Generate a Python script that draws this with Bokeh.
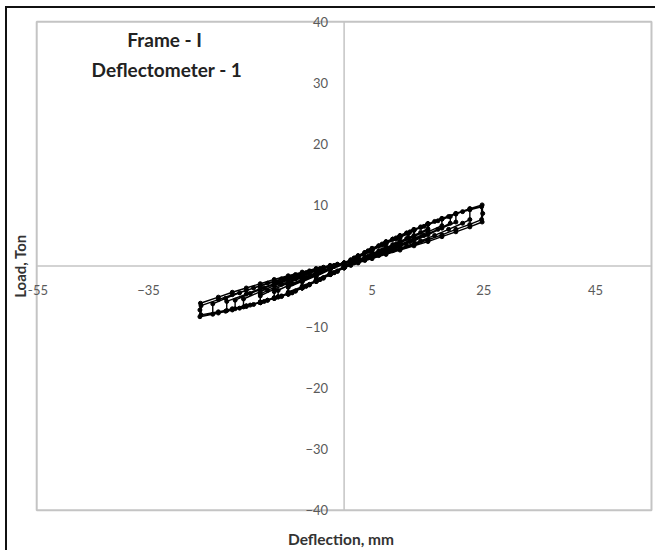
from bokeh.plotting import figure
from bokeh.models import Range1d, LinearAxis, FixedTicker, Label
from bokeh.embed import file_html
from bokeh.resources import INLINE

# ---- data ----
x_limits = [-55, 55]
y_limits = [-40, 40]
# (the -15 tick label is hidden under the data in the original, so only visible ones are listed)
x_tick_values = [-55, -35, 5, 25, 45]
y_tick_values = [-40, -30, -20, -10, 10, 20, 30, 40]

deflection = [
    # cycle A
    0, 2.5, 5, 5, 2.5, 0, -2.5, -5, -5, -2.5, 0,
    # cycle B
    2.5, 5, 7.5, 7.5, 5, 2.5, 0, -2.5, -5, -7.5, -7.5, -5, -2.5, 0,
    # cycle C
    2.5, 5, 7.5, 10, 10, 7.5, 5, 2.5, 0, -2.5, -5, -7.5, -10, -10, -7.5, -5, -2.5, 0,
    # cycle D
    2.5, 5, 7.5, 10, 10, 7.5, 5, 2.5, 0, -2.5, -5, -7.5, -10, -10, -7.5, -5, -2.5, 0,
    # cycle M
    1.8, 4.3, 6.8, 9.3, 11.5, 11.5, 9.3, 6.8, 4.3, 1.8, 0,
    -1.8, -4.3, -6.8, -9.3, -11.8, -11.8, -9.3, -6.8, -4.3, -1.8, 0,
    # cycle E
    2.5, 5, 7.5, 10, 12.5, 12.5, 10, 7.5, 5, 2.5, 0, -2.5, -5, -7.5, -10, -12.5, -12.5, -10, -7.5, -5, -2.5, 0,
    # cycle F
    2.5, 5, 7.5, 10, 12.5, 15, 15, 12.5, 10, 7.5, 5, 2.5, 0, -2.5, -5, -7.5, -10, -12.5, -15,
    -15, -12.5, -10, -7.5, -5, -2.5, 0,
    # cycle G
    1.2, 3.7, 6.2, 8.7, 11.2, 13.7, 15, 15, 13.7, 11.2, 8.7, 6.2, 3.7, 1.2, 0,
    -1.2, -3.7, -6.2, -8.7, -11.2, -13.7, -15, -15, -13.7, -11.2, -8.7, -6.2, -3.7, -1.2, 0,
    # cycle H
    2.5, 5, 7.5, 10, 12.5, 15, 17.5, 17.5, 15, 12.5, 10, 7.5, 5, 2.5, 0,
    -2.5, -5, -7.5, -10, -12.5, -15, -18, -18, -15, -12.5, -10, -7.5, -5, -2.5, 0,
    # cycle N
    1.8, 4.3, 6.8, 9.3, 11.8, 14.3, 16.8, 19, 19, 16.8, 14.3, 11.8, 9.3, 6.8, 4.3, 1.8, 0,
    -1.8, -4.3, -6.8, -9.3, -11.8, -14.3, -16.8, -19.5, -19.5, -16.8, -14.3, -11.8, -9.3, -6.8, -4.3, -1.8, 0,
    # cycle I
    2.5, 5, 7.5, 10, 12.5, 15, 17.5, 20, 20, 17.5, 15, 12.5, 10, 7.5, 5, 2.5, 0,
    -2.5, -5, -7.5, -10, -12.5, -15, -17.5, -21, -21, -17.5, -15, -12.5, -10, -7.5, -5, -2.5, 0,
    # cycle J
    1.2, 3.7, 6.2, 8.7, 11.2, 13.7, 16.2, 18.7, 21.2, 22.5, 22.5, 21.2, 18.7, 16.2, 13.7, 11.2, 8.7, 6.2, 3.7, 1.2, 0,
    -1.2, -3.7, -6.2, -8.7, -11.2, -13.7, -16.2, -18.7, -21.2, -23.5,
    -23.5, -21.2, -18.7, -16.2, -13.7, -11.2, -8.7, -6.2, -3.7, -1.2, 0,
    # cycle K (outermost)
    2.5, 5, 7.5, 10, 12.5, 15, 17.5, 20, 22.5, 24.7, 24.8, 24.7, 22.5, 20, 17.5, 15, 12.5, 10, 7.5, 5, 2.5, 0,
    -2.5, -5, -7.5, -10, -12.5, -15, -17.5, -20, -22.5, -25.8, -25.8, -25.7,
    -22.5, -20, -17.5, -15, -12.5, -10, -7.5, -5, -2.5, 0,
    # cycle L
    2.5, 5, 7.5, 10, 12.5, 15, 17.5, 20, 22.5, 24.6, 24.6, 22.5, 20, 17.5, 15, 12.5, 10, 7.5, 5, 2.5, 0,
    -2.5, -5, -7.5, -10, -12.5, -15, -17.5, -20, -22.5, -25.6, -25.6,
    -22.5, -20, -17.5, -15, -12.5, -10, -7.5, -5, -2.5, 0,
]
load = [
    # cycle A
    0.2, 1.4, 2.5, 2.0, 0.9, -0.1, -1.2, -2.2, -1.7, -0.6, 0.3,
    # cycle B
    1.5, 2.6, 3.6, 3.0, 2.0, 0.9, -0.2, -1.3, -2.4, -3.3, -2.6, -1.6, -0.6, 0.3,
    # cycle C
    1.5, 2.7, 3.8, 4.7, 4.0, 3.0, 2.0, 1.0, -0.1, -1.3, -2.4, -3.4, -4.3, -3.5, -2.5, -1.5, -0.5, 0.3,
    # cycle D
    1.6, 2.7, 3.7, 4.6, 3.8, 2.8, 1.9, 0.9, -0.2, -1.4, -2.5, -3.5, -4.4, -3.3, -2.3, -1.4, -0.4, 0.4,
    # cycle M
    1.3, 2.4, 3.4, 4.4, 5.3, 4.6, 3.6, 2.6, 1.6, 0.6, -0.2,
    -1.1, -2.2, -3.3, -4.3, -5.0, -4.0, -2.9, -1.9, -1.0, -0.1, 0.4,
    # cycle E
    1.6, 2.8, 3.9, 4.9, 5.8, 5.0, 4.0, 3.0, 2.0, 1.0, -0.2, -1.4, -2.5, -3.6, -4.5, -5.2, -4.2, -3.2, -2.3, -1.3, -0.4, 0.4,
    # cycle F
    1.6, 2.8, 3.9, 4.9, 5.9, 6.8, 5.9, 4.8, 3.8, 2.8, 1.8, 0.8, -0.3, -1.4, -2.5, -3.6, -4.6, -5.3, -6.0,
    -4.9, -3.8, -2.8, -1.9, -1.1, -0.3, 0.4,
    # cycle G
    1.0, 2.2, 3.3, 4.4, 5.4, 6.3, 6.9, 6.1, 5.5, 4.5, 3.5, 2.5, 1.5, 0.5, -0.1,
    -0.8, -1.9, -3.0, -4.1, -4.9, -5.6, -5.9, -4.6, -4.0, -3.0, -2.1, -1.2, -0.4, 0.2, 0.5,
    # cycle H
    1.6, 2.8, 3.9, 4.9, 5.9, 6.9, 7.7, 6.6, 5.6, 4.5, 3.5, 2.6, 1.7, 0.7, -0.3,
    -1.4, -2.5, -3.6, -4.6, -5.3, -6.0, -6.7, -5.4, -4.2, -3.2, -2.3, -1.5, -0.7, 0.0, 0.5,
    # cycle N
    1.3, 2.5, 3.6, 4.6, 5.6, 6.5, 7.4, 8.1, 7.0, 6.0, 5.0, 4.0, 3.1, 2.3, 1.4, 0.5, -0.3,
    -1.1, -2.2, -3.3, -4.4, -5.1, -5.8, -6.4, -7.0, -5.6, -4.5, -3.6, -2.7, -1.9, -1.1, -0.4, 0.1, 0.5,
    # cycle I
    1.6, 2.8, 3.9, 4.9, 5.9, 6.9, 7.7, 8.5, 7.2, 6.2, 5.1, 4.1, 3.2, 2.3, 1.5, 0.6, -0.3,
    -1.4, -2.5, -3.6, -4.6, -5.3, -6.0, -6.6, -7.3, -5.8, -4.6, -3.7, -2.9, -2.1, -1.3, -0.6, 0.0, 0.5,
    # cycle J
    1.0, 2.2, 3.3, 4.4, 5.4, 6.4, 7.3, 8.1, 8.9, 9.3, 7.6, 7.0, 6.0, 5.0, 4.1, 3.3, 2.5, 1.7, 0.9, 0.1, -0.3,
    -0.9, -2.0, -3.1, -4.1, -5.0, -5.6, -6.3, -6.9, -7.4, -7.9,
    -6.2, -5.3, -4.4, -3.6, -2.8, -2.1, -1.4, -0.8, -0.2, 0.3, 0.5,
    # cycle K (outermost)
    1.6, 2.8, 3.9, 4.9, 5.9, 6.9, 7.7, 8.6, 9.4, 10.0, 8.6, 7.2, 6.4, 5.6, 4.8, 4.0, 3.3, 2.6, 1.9, 1.2, 0.5, -0.3,
    -1.4, -2.5, -3.6, -4.6, -5.3, -6.0, -6.6, -7.2, -7.7, -8.3, -7.2, -6.1,
    -5.1, -4.3, -3.6, -2.9, -2.2, -1.6, -1.0, -0.4, 0.1, 0.5,
    # cycle L
    1.7, 2.9, 4.0, 5.0, 6.0, 6.9, 7.8, 8.6, 9.2, 9.7, 7.6, 6.8, 6.0, 5.1, 4.3, 3.5, 2.8, 2.1, 1.4, 0.6, -0.2,
    -1.3, -2.4, -3.5, -4.5, -5.2, -5.9, -6.5, -7.0, -7.5, -8.0, -6.5,
    -5.5, -4.7, -4.0, -3.3, -2.6, -1.9, -1.2, -0.6, 0.0, 0.4,
]

title_lines = ["Frame  - I", "Deflectometer - 1"]

FONT = "Lato"
GRAY_LINE = "#c4c4c4"
LABEL_GRAY = "#5a5a5a"

# the canvas frame is a little larger than the axis box so edge tick labels are not cut off
p = figure(width=650, height=544,
           x_range=Range1d(x_limits[0] - 1.47, x_limits[1] + 0.36),
           y_range=Range1d(y_limits[0] - 1.5, y_limits[1] + 1.5),
           x_axis_type=None, y_axis_type=None,
           output_backend="svg", toolbar_location=None,
           min_border_left=19, min_border_right=4,
           min_border_top=4, min_border_bottom=33)
p.styles = {"border-top": "2px solid #111111", "border-left": "2px solid #111111",
            "margin-top": "6px", "margin-left": "5px"}
p.outline_line_color = None
p.background_fill_color = "white"
p.border_fill_color = "white"

# axis titles (outside the frame)
xa = LinearAxis(ticker=FixedTicker(ticks=[]), axis_label="Deflection, mm",
                axis_line_color=None, major_tick_line_color=None, minor_tick_line_color=None,
                major_label_text_font_size="0px", axis_label_standoff=10,
                axis_label_text_font=FONT, axis_label_text_font_style="bold",
                axis_label_text_font_size="15.5px", axis_label_text_color="#333333")
p.add_layout(xa, "below")
ya = LinearAxis(ticker=FixedTicker(ticks=[]), axis_label="Load, Ton",
                axis_line_color=None, major_tick_line_color=None, minor_tick_line_color=None,
                major_label_text_font_size="0px", axis_label_standoff=0,
                axis_label_text_font=FONT, axis_label_text_font_style="bold",
                axis_label_text_font_size="15px", axis_label_text_color="#333333")
p.add_layout(ya, "left")

# plot-area box and crossing axis lines (beneath the data)
p.quad(left=x_limits[0], right=x_limits[1], bottom=y_limits[0], top=y_limits[1],
       fill_color=None, line_color=GRAY_LINE, line_width=2, level="underlay")
p.segment(x0=x_limits[0], y0=0, x1=x_limits[1], y1=0, line_color=GRAY_LINE, line_width=1.5, level="underlay")
p.segment(x0=0, y0=y_limits[0], x1=0, y1=y_limits[1], line_color=GRAY_LINE, line_width=1.5, level="underlay")

# crossing axes carrying the tick labels
x_cross = LinearAxis(fixed_location=0, ticker=FixedTicker(ticks=x_tick_values),
                     axis_line_color=None, major_tick_line_color=None, minor_tick_line_color=None,
                     major_label_standoff=13, major_label_text_font=FONT,
                     major_label_text_font_size="13px", major_label_text_color=LABEL_GRAY)
p.add_layout(x_cross, "below")
y_cross = LinearAxis(fixed_location=0, ticker=FixedTicker(ticks=y_tick_values),
                     axis_line_color=None, major_tick_line_color=None, minor_tick_line_color=None,
                     major_label_standoff=10, major_label_text_font=FONT,
                     major_label_text_font_size="13px", major_label_text_color=LABEL_GRAY)
p.add_layout(y_cross, "left")

# data
p.line(deflection, load, line_color="black", line_width=1.4)
p.scatter(deflection, load, size=4, fill_color="black", line_color="black")

# chart title text inside plot
p.add_layout(Label(x=-31.7, y=37.0, text=title_lines[0], text_align="center", text_baseline="middle",
                   text_font=FONT, text_font_style="bold", text_font_size="19px", text_color="#222222"))
p.add_layout(Label(x=-31.7, y=32.1, text=title_lines[1], text_align="center", text_baseline="middle",
                   text_font=FONT, text_font_style="bold", text_font_size="19px", text_color="#222222"))

open("out.html", "w").write(file_html(p, INLINE))
